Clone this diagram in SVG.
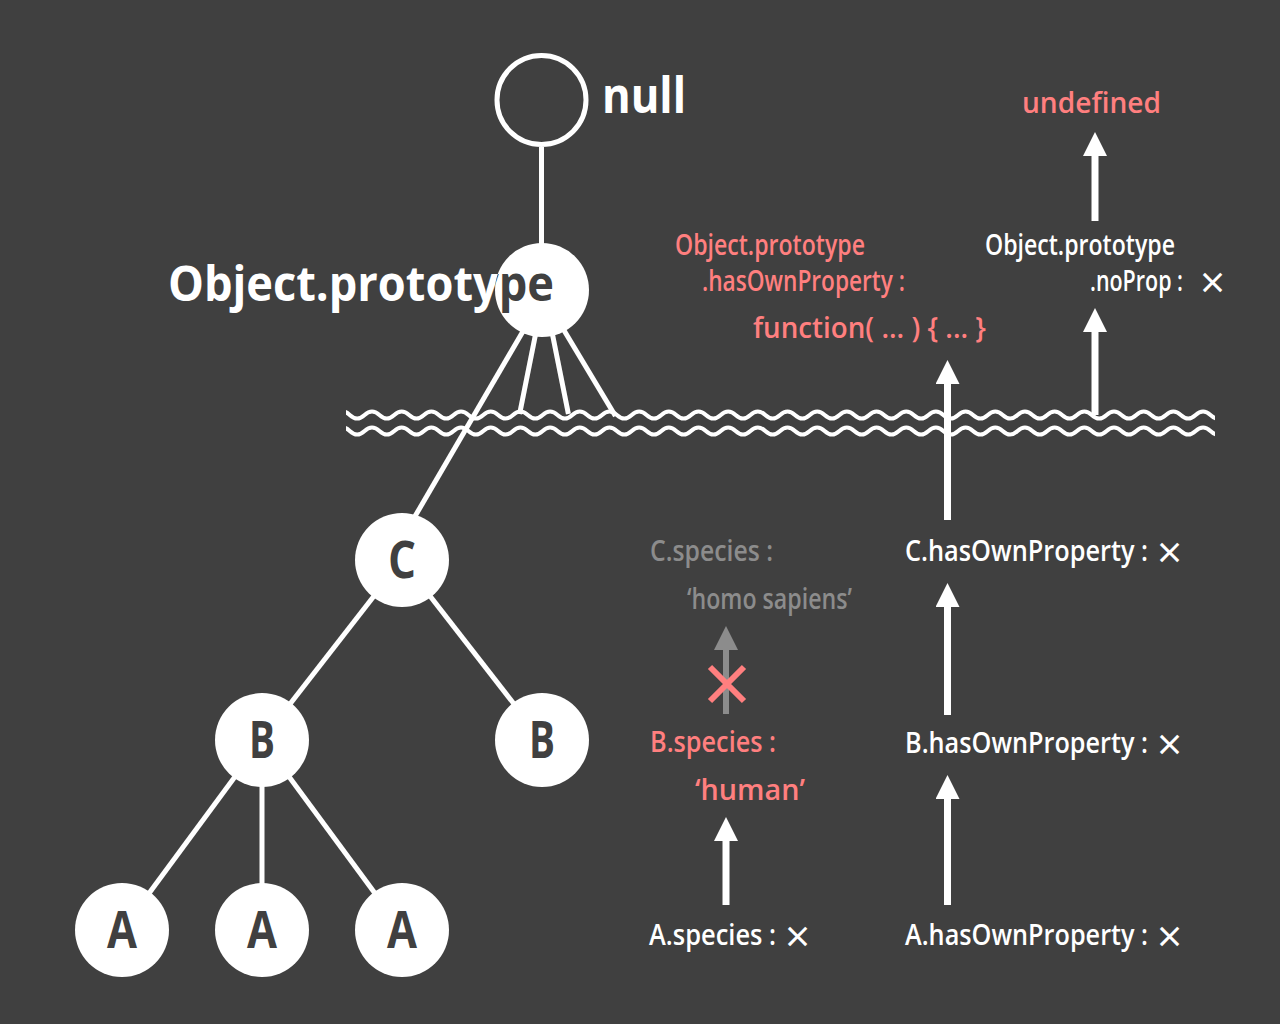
<svg xmlns="http://www.w3.org/2000/svg" xmlns:xlink="http://www.w3.org/1999/xlink" width="1280" height="1024" viewBox="0 0 1280 1024">
<style>
.t{font-family:"Open Sans","Noto Sans","DejaVu Sans",sans-serif;font-weight:600;font-size:29px}
.w{fill:#ffffff}.p{fill:#ff7f7f}.g{fill:#8c8c8c}
.x{font-weight:400;font-size:44px}
.big{font-family:"Open Sans","Noto Sans","DejaVu Sans",sans-serif;font-weight:700}
.lbl{font-family:"Open Sans","Noto Sans","DejaVu Sans",sans-serif;font-weight:700;font-size:52px;fill:#404040;text-anchor:middle}
.edge{stroke:#ffffff;stroke-width:5;fill:none}
.arr{stroke:#ffffff;stroke-width:7;marker-end:url(#ah)}
.arrg{stroke:#8c8c8c;stroke-width:6;marker-end:url(#ahg)}
.wave{stroke:#ffffff;stroke-width:4;fill:none}
.nd{fill:#ffffff}
</style>
<defs>
<marker id="ah" viewBox="0 0 24 24" refX="0" refY="12" markerWidth="24" markerHeight="24" markerUnits="userSpaceOnUse" orient="auto"><path d="M0,0 L24,12 L0,24 z" fill="#ffffff"/></marker>
<marker id="ahg" viewBox="0 0 24 24" refX="0" refY="12" markerWidth="24" markerHeight="24" markerUnits="userSpaceOnUse" orient="auto"><path d="M0,0 L24,12 L0,24 z" fill="#8c8c8c"/></marker>
<clipPath id="waveclip"><rect x="346" y="395" width="869" height="50"/></clipPath>
<clipPath id="opclip"><circle cx="542" cy="290" r="47"/></clipPath>
<path id="wv" d="M334.9 415 q7.42 -7 14.84 0 t14.84 0 t14.84 0 t14.84 0 t14.84 0 t14.84 0 t14.84 0 t14.84 0 t14.84 0 t14.84 0 t14.84 0 t14.84 0 t14.84 0 t14.84 0 t14.84 0 t14.84 0 t14.84 0 t14.84 0 t14.84 0 t14.84 0 t14.84 0 t14.84 0 t14.84 0 t14.84 0 t14.84 0 t14.84 0 t14.84 0 t14.84 0 t14.84 0 t14.84 0 t14.84 0 t14.84 0 t14.84 0 t14.84 0 t14.84 0 t14.84 0 t14.84 0 t14.84 0 t14.84 0 t14.84 0 t14.84 0 t14.84 0 t14.84 0 t14.84 0 t14.84 0 t14.84 0 t14.84 0 t14.84 0 t14.84 0 t14.84 0 t14.84 0 t14.84 0 t14.84 0 t14.84 0 t14.84 0 t14.84 0 t14.84 0 t14.84 0 t14.84 0 t14.84 0 t14.84 0"/>
</defs>
<rect width="1280" height="1024" fill="#404040"/>

<g id="boundary" clip-path="url(#waveclip)">
<use xlink:href="#wv" class="wave"/>
<use xlink:href="#wv" class="wave" transform="translate(0,16)"/>
</g>

<g id="connectors">
<line class="edge" x1="541.5" y1="147" x2="541.5" y2="250"/>
<line class="edge" x1="529.6" y1="320" x2="407" y2="530"/>
<line class="edge" x1="538.4" y1="320" x2="519.6" y2="414"/>
<line class="edge" x1="549.6" y1="320" x2="568.4" y2="414"/>
<line class="edge" x1="557.8" y1="320" x2="615.4" y2="416"/>
<line class="edge" x1="402" y1="560" x2="262" y2="740"/>
<line class="edge" x1="402" y1="560" x2="542" y2="740"/>
<line class="edge" x1="262" y1="740" x2="122" y2="930"/>
<line class="edge" x1="262" y1="740" x2="262" y2="930"/>
<line class="edge" x1="262" y1="740" x2="402" y2="930"/>
<line class="arr" x1="1095" y1="221" x2="1095" y2="156"/>
<line class="arr" x1="1095" y1="415" x2="1095" y2="332"/>
<line class="arr" x1="947.5" y1="520" x2="947.5" y2="384"/>
<line class="arr" x1="947.5" y1="715" x2="947.5" y2="607"/>
<line class="arr" x1="947.5" y1="905" x2="947.5" y2="799"/>
<line class="arr" x1="726" y1="905" x2="726" y2="841"/>
<line class="arrg" x1="726" y1="714" x2="726" y2="650"/>
<path d="M710 667 L744 701 M744 667 L710 701" stroke="#ff7f7f" stroke-width="6" fill="none"/>
</g>

<g id="node-null">
<circle cx="541.5" cy="100" r="44.5" fill="#404040" stroke="#ffffff" stroke-width="5"/>
<text class="big w" x="602" y="113" style="font-size:50px" textLength="84" lengthAdjust="spacingAndGlyphs">null</text>
</g>

<g id="node-objproto">
<circle class="nd" cx="542" cy="290" r="47"/>
<g fill="#ffffff"><text id="optext" class="big" x="168" y="301" style="font-size:48px" textLength="386" lengthAdjust="spacingAndGlyphs">Object.prototype</text></g>
<use xlink:href="#optext" clip-path="url(#opclip)" fill="#404040"/>
</g>

<g id="node-C"><circle class="nd" cx="402" cy="560" r="47"/><text class="lbl" x="402" y="578" textLength="28" lengthAdjust="spacingAndGlyphs">C</text></g>
<g id="node-B1"><circle class="nd" cx="262" cy="740" r="47"/><text class="lbl" x="262" y="758" textLength="26" lengthAdjust="spacingAndGlyphs">B</text></g>
<g id="node-B2"><circle class="nd" cx="542" cy="740" r="47"/><text class="lbl" x="542" y="758" textLength="26" lengthAdjust="spacingAndGlyphs">B</text></g>
<g id="node-A1"><circle class="nd" cx="122" cy="930" r="47"/><text class="lbl" x="122" y="948" textLength="30" lengthAdjust="spacingAndGlyphs">A</text></g>
<g id="node-A2"><circle class="nd" cx="262" cy="930" r="47"/><text class="lbl" x="262" y="948" textLength="30" lengthAdjust="spacingAndGlyphs">A</text></g>
<g id="node-A3"><circle class="nd" cx="402" cy="930" r="47"/><text class="lbl" x="402" y="948" textLength="30" lengthAdjust="spacingAndGlyphs">A</text></g>

<g id="label-undefined"><text class="t p" x="1022" y="113" textLength="139" lengthAdjust="spacingAndGlyphs">undefined</text></g>
<g id="label-noprop">
<text class="t w" x="985" y="255" textLength="190" lengthAdjust="spacingAndGlyphs">Object.prototype</text>
<text class="t w" y="291"><tspan x="1090" textLength="93" lengthAdjust="spacingAndGlyphs">.noProp :</tspan> <tspan class="x" x="1200" dy="7">×</tspan></text>
</g>
<g id="label-ophas">
<text class="t p" x="675" y="255" textLength="190" lengthAdjust="spacingAndGlyphs">Object.prototype</text>
<text class="t p" x="702" y="291" textLength="203" lengthAdjust="spacingAndGlyphs">.hasOwnProperty :</text>
<text class="t p" x="753" y="338" textLength="233" lengthAdjust="spacingAndGlyphs">function( ... ) { ... }</text>
</g>
<g id="label-Chas"><text class="t w" y="561"><tspan x="905" textLength="243" lengthAdjust="spacingAndGlyphs">C.hasOwnProperty :</tspan> <tspan class="x" x="1157" dy="7">×</tspan></text></g>
<g id="label-Bhas"><text class="t w" y="753"><tspan x="905" textLength="243" lengthAdjust="spacingAndGlyphs">B.hasOwnProperty :</tspan> <tspan class="x" x="1157" dy="7">×</tspan></text></g>
<g id="label-Ahas"><text class="t w" y="945"><tspan x="905" textLength="243" lengthAdjust="spacingAndGlyphs">A.hasOwnProperty :</tspan> <tspan class="x" x="1157" dy="7">×</tspan></text></g>
<g id="label-Cspecies">
<text class="t g" x="650" y="561" textLength="123" lengthAdjust="spacingAndGlyphs">C.species :</text>
<text class="t g" x="687" y="609" textLength="165" lengthAdjust="spacingAndGlyphs">‘homo sapiens’</text>
</g>
<g id="label-Bspecies">
<text class="t p" x="650" y="752" textLength="126" lengthAdjust="spacingAndGlyphs">B.species :</text>
<text class="t p" x="695" y="800" textLength="110" lengthAdjust="spacingAndGlyphs">‘human’</text>
</g>
<g id="label-Aspecies"><text class="t w" y="945"><tspan x="649" textLength="127" lengthAdjust="spacingAndGlyphs">A.species :</tspan> <tspan class="x" x="785" dy="7">×</tspan></text></g>
</svg>
